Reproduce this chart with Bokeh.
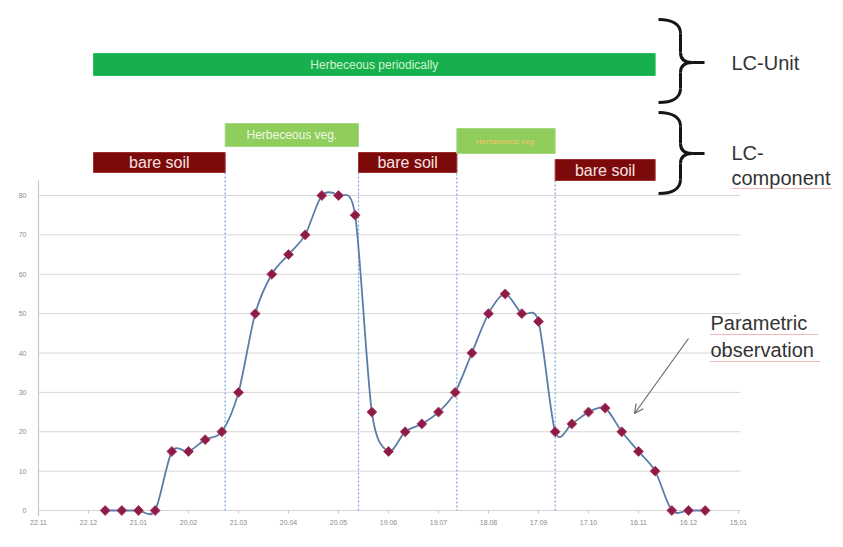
import math
from bokeh.plotting import figure
from bokeh.models import FixedTicker, Arrow, OpenHead
from bokeh.embed import file_html
from bokeh.resources import INLINE
from bokeh.core.properties import value

# ---------------- data ----------------
obs_days = [40, 50, 60, 70, 80, 90, 100, 110, 120, 130, 140, 150, 160, 170, 180,
            190, 200, 210, 220, 230, 240, 250, 260, 270, 280, 290, 300, 310, 320,
            330, 340, 350, 360, 370, 380, 390, 400]
obs_values = [0, 0, 0, 0, 15, 15, 18, 20, 30, 50, 60, 65, 70, 80, 80,
              75, 25, 15, 20, 22, 25, 30, 40, 50, 55, 50, 48, 20, 22,
              25, 26, 20, 15, 10, 0, 0, 0]

tick_days = [0, 30, 60, 90, 120, 150, 180, 210, 240, 270, 300, 330, 360, 390, 420]
tick_labels = ["22.11", "22.12", "21.01", "20.02", "21.03", "20.04", "20.05", "19.06",
               "19.07", "18.08", "17.09", "17.10", "16.11", "16.12", "15.01"]
y_ticks = [0, 10, 20, 30, 40, 50, 60, 70, 80]

unit_names = ["Herbeceous periodically"]
unit_start = [33]
unit_end = [370]

comp_names = ["bare soil", "Herbeceous veg.", "bare soil", "Herbeceous veg.", "bare soil"]
comp_start = [33, 112, 192, 251, 310]
comp_end = [112, 192, 251, 310, 370]
comp_kind = ["soil", "veg", "soil", "veg", "soil"]

boundary_days = [112, 192, 251, 310]

# ---------------- layout helpers (canvas pixels -> data) ----------------
PX_DAY = 50.0 / 30.0
PX_UNIT = 315.0 / 80.0
X0_PIX = 38.0
Y0_PIX = 510.0


def X(px):
    return (px - X0_PIX) / PX_DAY


def Y(py):
    return (Y0_PIX - py) / PX_UNIT


W, H = 835, 539
BL, BB = 30, 23
x_start = X(BL)
x_end = X(W)
y_end = Y(0)
y_start = Y(H - BB)

p = figure(width=W, height=H, x_range=(x_start, x_end), y_range=(y_start, y_end),
           output_backend="svg", toolbar_location=None,
           min_border_left=BL, min_border_right=0, min_border_top=0, min_border_bottom=BB)
p.outline_line_color = None
p.xgrid.visible = False
p.ygrid.visible = False
p.background_fill_color = "white"

FONT = value("Liberation Sans")

# axes
p.xaxis.ticker = FixedTicker(ticks=tick_days)
p.xaxis.major_label_overrides = {d: l for d, l in zip(tick_days, tick_labels)}
p.yaxis.ticker = FixedTicker(ticks=y_ticks)
for ax in (p.xaxis[0], p.yaxis[0]):
    ax.axis_line_color = None
    ax.major_tick_line_color = None
    ax.minor_tick_line_color = None
    ax.major_tick_out = 0
    ax.major_tick_in = 0
    ax.minor_tick_out = 0
    ax.minor_tick_in = 0
    ax.major_label_text_font_size = "7px"
    ax.major_label_text_color = "#8a8a8a"
    ax.major_label_text_font = "Liberation Sans"
p.xaxis.major_label_standoff = 3
p.yaxis.major_label_standoff = 4

# grid lines and axis line
p.segment(x0=[0] * len(y_ticks), x1=[X(740)] * len(y_ticks), y0=y_ticks, y1=y_ticks,
          line_color="#d6d6d6", line_width=1)
p.segment(x0=[0], x1=[0], y0=[Y(180)], y1=[y_start], line_color="#c8c8c8", line_width=1.2)
p.segment(x0=tick_days, x1=tick_days, y0=[0] * len(tick_days), y1=[Y(513)] * len(tick_days),
          line_color="#c8c8c8", line_width=1)

# boundaries (dotted verticals)
bound_top_px = [172, 172, 153, 180]
p.segment(x0=boundary_days, x1=boundary_days, y0=[Y(t) for t in bound_top_px],
          y1=[0] * len(boundary_days), line_color="#7ea6d8", line_width=1.2, line_dash="2 2")

# LC unit bar
p.quad(left=unit_start, right=unit_end, top=[Y(53)], bottom=[Y(75)],
       fill_color="#17b04f", line_color="#2dbb60")
p.text(x=[(s + e) / 2 for s, e in zip(unit_start, unit_end)], y=[Y(64)], text=unit_names,
       text_align="center", text_baseline="middle", text_font=FONT,
       text_font_size="12px", text_color="#d4f2cc")

# LC components
rows_px = {"soil": [(152, 172), (152, 172), (159, 180)], "veg": [(123, 146), (128, 153)]}
fills = {"soil": "#7c0a0a", "veg": "#8fcd5c"}
edges = {"soil": "#a03030", "veg": "#a8d87e"}
soil_i = 0
veg_i = 0
for name, s, e, k in zip(comp_names, comp_start, comp_end, comp_kind):
    if k == "soil":
        t, b = rows_px["soil"][soil_i]
        soil_i += 1
        size, col = "16px", "#f6e2e2"
    else:
        t, b = rows_px["veg"][veg_i]
        veg_i += 1
        size, col = ("12px", "#f2f9e6") if veg_i == 1 else ("8px", "#f7c66a")
    p.quad(left=[s], right=[e], top=[Y(t)], bottom=[Y(b)], fill_color=fills[k], line_color=edges[k])
    p.text(x=[(s + e) / 2], y=[Y((t + b) / 2)], text=[name], text_align="center",
           text_baseline="middle", text_font=FONT, text_font_size=size, text_color=col)

# smoothed curve (cardinal spline -> cubic bezier through observations)
TENS = 1.0 / 7.0
n = len(obs_days)
bx0, by0, bx1, by1, c0x, c0y, c1x, c1y = [], [], [], [], [], [], [], []
for i in range(n - 1):
    xa, ya = obs_days[i], obs_values[i]
    xb, yb = obs_days[i + 1], obs_values[i + 1]
    xp, yp = (obs_days[i - 1], obs_values[i - 1]) if i > 0 else (xa, ya)
    xn, yn = (obs_days[i + 2], obs_values[i + 2]) if i + 2 < n else (xb, yb)
    bx0.append(xa); by0.append(ya); bx1.append(xb); by1.append(yb)
    c0x.append(xa + (xb - xp) * TENS); c0y.append(ya + (yb - yp) * TENS)
    c1x.append(xb - (xn - xa) * TENS); c1y.append(yb - (yn - ya) * TENS)
p.bezier(x0=bx0, y0=by0, x1=bx1, y1=by1, cx0=c0x, cy0=c0y, cx1=c1x, cy1=c1y,
         line_color="#5a7ea8", line_width=1.8)
p.scatter(x=obs_days, y=obs_values, marker="square", angle=math.pi / 4, size=7,
          fill_color="#8c1c45", line_color="#b04068", line_width=1)


# braces
def brace(top, mid, bot):
    xl, xv, xm, xt = 658, 680, 692, 704
    segs = [
        ((xl, top), (xv, top + 14), (672, top), (xv, top + 5)),
        ((xv, top + 14), (xv, mid - 10), (xv, top + 14), (xv, mid - 10)),
        ((xv, mid - 10), (xm, mid), (xv, mid - 3), (685, mid)),
        ((xm, mid), (xt, mid), (xm, mid), (xt, mid)),
        ((xm, mid), (xv, mid + 10), (685, mid), (xv, mid + 3)),
        ((xv, mid + 10), (xv, bot - 14), (xv, mid + 10), (xv, bot - 14)),
        ((xv, bot - 14), (xl, bot), (xv, bot - 5), (672, bot)),
    ]
    p.bezier(x0=[X(s[0][0]) for s in segs], y0=[Y(s[0][1]) for s in segs],
             x1=[X(s[1][0]) for s in segs], y1=[Y(s[1][1]) for s in segs],
             cx0=[X(s[2][0]) for s in segs], cy0=[Y(s[2][1]) for s in segs],
             cx1=[X(s[3][0]) for s in segs], cy1=[Y(s[3][1]) for s in segs],
             line_color="#151515", line_width=3)


brace(19, 62, 102)
brace(112, 153, 193)

# right-side texts
right_texts = [("LC-Unit", 731, 62), ("LC-", 731, 152), ("component", 731, 177),
               ("Parametric", 710, 322), ("observation", 710, 349)]
p.text(x=[X(t[1]) for t in right_texts], y=[Y(t[2]) for t in right_texts],
       text=[t[0] for t in right_texts], text_align="left", text_baseline="middle",
       text_font=FONT, text_font_size="20px", text_color="#333333")
# spell-check underlines
p.segment(x0=[X(732), X(710), X(710)], x1=[X(832), X(818), X(820)],
          y0=[Y(188), Y(334), Y(361)], y1=[Y(188), Y(334), Y(361)],
          line_color="#e07070", line_width=1, line_dash="1 1")

# arrow
p.add_layout(Arrow(end=OpenHead(size=9, line_color="#6a6a6a", line_width=1.2),
                   x_start=X(688), y_start=Y(338), x_end=X(634), y_end=Y(413),
                   line_color="#6a6a6a", line_width=1.2))

open("out.html", "w").write(file_html(p, INLINE))
